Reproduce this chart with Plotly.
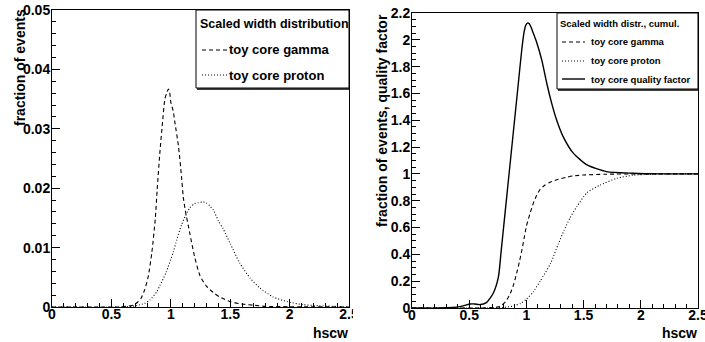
import plotly.graph_objects as go

# ---------------- data ----------------
# Left panel: scaled width distribution (fraction of events per bin)
gamma_x = [0.0, 0.55, 0.62, 0.68, 0.72, 0.75, 0.78, 0.81, 0.84, 0.87, 0.885, 0.91, 0.93, 0.95,
           0.965, 0.98, 0.99, 1.0, 1.02, 1.035, 1.065, 1.09, 1.105, 1.12, 1.16, 1.20, 1.245,
           1.30, 1.36, 1.41, 1.50, 1.60, 1.70, 1.80, 2.0, 2.5]
gamma_y = [0.0, 0.0, 0.0001, 0.0003, 0.0008, 0.0015, 0.0029, 0.0051, 0.0091, 0.0150, 0.0197,
           0.0265, 0.0310, 0.0350, 0.0360, 0.0367, 0.0362, 0.0345, 0.0330, 0.0310, 0.0270,
           0.0220, 0.0185, 0.0165, 0.0124, 0.0085, 0.0053, 0.0035, 0.0024, 0.0017, 0.0009,
           0.0005, 0.0003, 0.0001, 0.00005, 0.0]

proton_x = [0.0, 0.6, 0.70, 0.78, 0.825, 0.88, 0.91, 0.96, 1.02, 1.05, 1.09, 1.12, 1.16, 1.20,
            1.23, 1.27, 1.30, 1.33, 1.36, 1.40, 1.44, 1.50, 1.58, 1.67, 1.75, 1.86, 1.98,
            2.11, 2.25, 2.4, 2.5]
proton_y = [0.0, 0.0, 0.0002, 0.0006, 0.0012, 0.0025, 0.0037, 0.0058, 0.0092, 0.0113, 0.0138,
            0.0152, 0.0167, 0.0174, 0.01756, 0.0177, 0.0175, 0.0170, 0.0163, 0.0145, 0.0132,
            0.0107, 0.0074, 0.0048, 0.0032, 0.0017, 0.0009, 0.0004, 0.0002, 0.0001, 0.0]

# Right panel: cumulative distributions and quality factor
gcum_x = [0.0, 0.6, 0.70, 0.77, 0.82, 0.86, 0.89, 0.915, 0.94, 0.96, 0.98, 1.0, 1.03, 1.06,
          1.09, 1.12, 1.16, 1.21, 1.28, 1.35, 1.41, 1.50, 1.70, 2.0, 2.5]
gcum_y = [0.0, 0.0, 0.003, 0.012, 0.05, 0.11, 0.18, 0.26, 0.35, 0.43, 0.52, 0.61, 0.70, 0.78,
          0.84, 0.885, 0.915, 0.94, 0.96, 0.975, 0.985, 0.992, 0.998, 1.0, 1.0]

pcum_x = [0.0, 0.6, 0.70, 0.80, 0.89, 0.95, 1.0, 1.06, 1.12, 1.21, 1.28, 1.33, 1.38, 1.44,
          1.53, 1.64, 1.79, 1.93, 2.1, 2.5]
pcum_y = [0.0, 0.0, 0.001, 0.005, 0.015, 0.035, 0.065, 0.12, 0.20, 0.33, 0.48, 0.58, 0.67,
          0.755, 0.86, 0.915, 0.967, 0.99, 0.998, 1.0]

qf_x = [0.0, 0.25, 0.42, 0.51, 0.55, 0.59, 0.65, 0.71, 0.755, 0.78, 0.81, 0.84, 0.87, 0.90,
        0.93, 0.96, 0.98, 0.995, 1.01, 1.025, 1.04, 1.06, 1.09, 1.134, 1.177, 1.22, 1.265,
        1.32, 1.41, 1.53, 1.70, 1.93, 2.2, 2.5]
qf_y = [0.0, 0.0, 0.01, 0.03, 0.03, 0.025, 0.04, 0.11, 0.23, 0.43, 0.68, 0.93, 1.18, 1.43,
        1.68, 1.93, 2.06, 2.11, 2.125, 2.12, 2.095, 2.05, 1.98, 1.85, 1.68, 1.53, 1.40,
        1.28, 1.155, 1.067, 1.017, 1.005, 1.0, 1.0]

x_ticks = [0, 0.5, 1, 1.5, 2, 2.5]
x_ticktext = ["0", "0.5", "1", "1.5", "2", "2.5"]
left_y_ticks = [0, 0.01, 0.02, 0.03, 0.04, 0.05]
left_y_ticktext = ["0", "0.01", "0.02", "0.03", "0.04", "0.05"]
right_y_ticks = [0, 0.2, 0.4, 0.6, 0.8, 1, 1.2, 1.4, 1.6, 1.8, 2, 2.2]
right_y_ticktext = ["0", "0.2", "0.4", "0.6", "0.8", "1", "1.2", "1.4", "1.6", "1.8", "2", "2.2"]

# ---------------- figure ----------------
W, H = 705, 342
FONT = "Liberation Sans"

def px(x):
    return x / W

def py(y):
    return 1 - y / H

def bold(labels):
    return ["<b>%s</b>" % t for t in labels]

fig = go.Figure()

DASH = "4px,3px"
DOT = "1px,2px"

fig.add_trace(go.Scatter(x=gamma_x, y=gamma_y, mode="lines", name="toy core gamma",
                         line=dict(color="black", width=1.1, dash=DASH, shape="spline", smoothing=0.6),
                         xaxis="x", yaxis="y", showlegend=False))
fig.add_trace(go.Scatter(x=proton_x, y=proton_y, mode="lines", name="toy core proton",
                         line=dict(color="black", width=1.1, dash=DOT, shape="spline", smoothing=0.6),
                         xaxis="x", yaxis="y", showlegend=False))

fig.add_trace(go.Scatter(x=gcum_x, y=gcum_y, mode="lines", name="toy core gamma",
                         line=dict(color="black", width=1.1, dash=DASH, shape="spline", smoothing=0.6),
                         xaxis="x2", yaxis="y2", showlegend=False))
fig.add_trace(go.Scatter(x=pcum_x, y=pcum_y, mode="lines", name="toy core proton",
                         line=dict(color="black", width=1.1, dash=DOT, shape="spline", smoothing=0.6),
                         xaxis="x2", yaxis="y2", showlegend=False))
fig.add_trace(go.Scatter(x=qf_x, y=qf_y, mode="lines", name="toy core quality factor",
                         line=dict(color="black", width=1.4, shape="spline", smoothing=0.6),
                         xaxis="x2", yaxis="y2", showlegend=False))

tickfont = dict(family=FONT, size=14, color="black")

def xaxis(domain, anchor):
    return dict(domain=domain, anchor=anchor, range=[0, 2.5], showgrid=False, zeroline=False,
                showline=True, linecolor="black", linewidth=1, mirror=True, automargin=False,
                ticks="inside", ticklen=8, tickcolor="black", tickwidth=1,
                tickvals=x_ticks, ticktext=bold(x_ticktext), tickfont=tickfont,
                ticklabelstandoff=-6, ticklabeloverflow="allow",
                minor=dict(ticks="inside", ticklen=4, dtick=0.1, tickcolor="black", showgrid=False),
                fixedrange=True)

def yaxis(domain, anchor, rng, vals, text, minor):
    return dict(domain=domain, anchor=anchor, range=rng, showgrid=False, zeroline=False,
                showline=True, linecolor="black", linewidth=1, mirror=True, automargin=False,
                ticks="inside", ticklen=8, tickcolor="black", tickwidth=1,
                tickvals=vals, ticktext=bold(text), tickfont=tickfont,
                ticklabelstandoff=-2, ticklabeloverflow="allow",
                minor=dict(ticks="inside", ticklen=4, dtick=minor, tickcolor="black", showgrid=False),
                fixedrange=True)

fig.update_layout(
    width=W, height=H, autosize=False,
    margin=dict(l=0, r=0, t=0, b=0),
    paper_bgcolor="white", plot_bgcolor="white", showlegend=False,
    xaxis=xaxis([px(52), px(349)], "y"),
    yaxis=yaxis([py(307), py(10)], "x", [0, 0.05], left_y_ticks, left_y_ticktext, 0.002),
    xaxis2=xaxis([px(412), px(698)], "y2"),
    yaxis2=yaxis([py(308), py(13)], "x2", [0, 2.2], right_y_ticks, right_y_ticktext, 0.05),
)

shapes = []
annotations = []

# clip the last x label of the left pad, as in the reference
shapes.append(dict(type="rect", xref="paper", yref="paper", layer="above",
                   x0=px(353), x1=px(372), y0=py(342), y1=py(300),
                   fillcolor="white", line=dict(width=0)))

# axis titles
title_font = dict(family=FONT, size=14, color="black")
annotations.append(dict(text="<b>fraction of events</b>", xref="paper", yref="paper",
                        x=px(20), y=py(68), textangle=-90, showarrow=False,
                        xanchor="center", yanchor="middle", font=title_font))
annotations.append(dict(text="<b>fraction of events, quality factor</b>", xref="paper", yref="paper",
                        x=px(382), y=py(121), textangle=-90, showarrow=False,
                        xanchor="center", yanchor="middle", font=title_font))
annotations.append(dict(text="<b>hscw</b>", xref="paper", yref="paper", x=px(349), y=py(342),
                        showarrow=False, xanchor="right", yanchor="bottom", borderpad=0,
                        font=title_font))
annotations.append(dict(text="<b>hscw</b>", xref="paper", yref="paper", x=px(698), y=py(342),
                        showarrow=False, xanchor="right", yanchor="bottom", borderpad=0,
                        font=title_font))

# legend boxes (drawn as in the ROOT TLegend)
def legend_box(x0, x1, y0, y1):
    shapes.append(dict(type="rect", xref="paper", yref="paper", layer="above",
                       x0=px(x0), x1=px(x1), y0=py(y1), y1=py(y0),
                       fillcolor="white", line=dict(color="black", width=1)))
    shapes.append(dict(type="line", xref="paper", yref="paper", layer="above",
                       x0=px(x0 + 1), x1=px(x1), y0=py(y1 + 1), y1=py(y1 + 1),
                       line=dict(color="black", width=1.5)))

def legend_line(x0, x1, y, dash, width=1.1):
    shapes.append(dict(type="line", xref="paper", yref="paper", layer="above",
                       x0=px(x0), x1=px(x1), y0=py(y), y1=py(y),
                       line=dict(color="black", width=width, dash=dash)))

def legend_text(text, x, y, size):
    annotations.append(dict(text="<b>%s</b>" % text, xref="paper", yref="paper", x=px(x), y=py(y),
                            showarrow=False, xanchor="left", yanchor="middle",
                            font=dict(family=FONT, size=size, color="black")))

legend_box(196, 349, 10, 88)
legend_text("Scaled width distribution", 198, 24, 12.5)
legend_line(202, 227, 50, DASH)
legend_text("toy core gamma", 227, 50, 13)
legend_line(202, 227, 75, DOT)
legend_text("toy core proton", 227, 75, 13)

legend_box(557, 698, 13, 89)
legend_text("Scaled width distr., cumul.", 558, 23, 9.5)
legend_line(562, 585, 42, DASH)
legend_text("toy core gamma", 589, 42, 9.5)
legend_line(562, 585, 61, DOT)
legend_text("toy core proton", 589, 61, 9.5)
legend_line(562, 585, 79, "solid", 1.4)
legend_text("toy core quality factor", 589, 79, 9.5)

fig.update_layout(shapes=shapes, annotations=annotations)

fig.write_html("out.html", config={"displayModeBar": False},
               post_script="document.body.style.margin='0';")
